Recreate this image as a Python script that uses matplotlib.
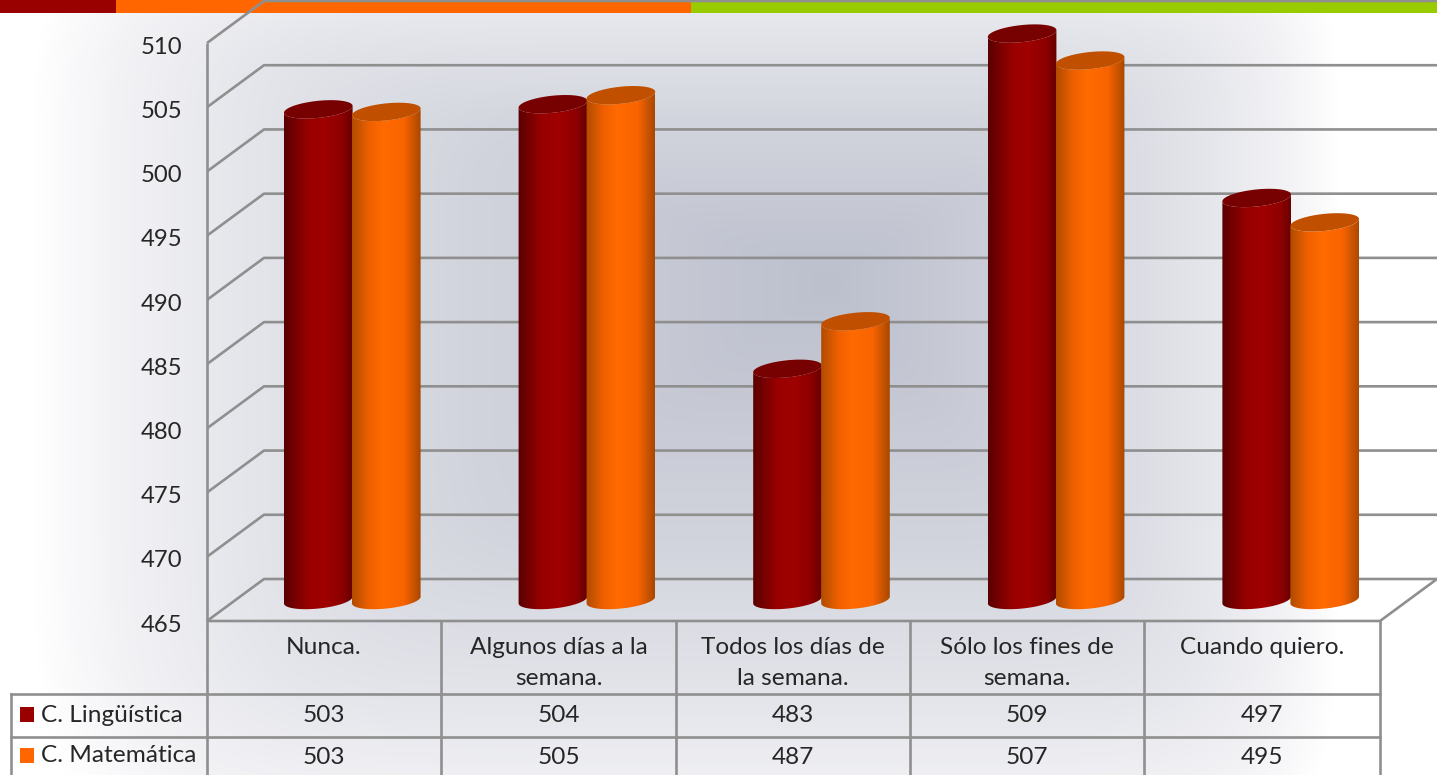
import numpy as np
import matplotlib.pyplot as plt
from matplotlib.patches import Polygon, Rectangle
from matplotlib.path import Path
from matplotlib.transforms import IdentityTransform, ScaledTranslation
from matplotlib.colors import LinearSegmentedColormap

plt.rcParams['font.family'] = ['Lato', 'DejaVu Sans']

W = 1437
H = 775

# datos
categorias = ['Nunca.', 'Algunos días a la\nsemana.', 'Todos los días de\nla semana.',
              'Sólo los fines de\nsemana.', 'Cuando quiero.']
series = ['C. Lingüística', 'C. Matemática']
tabla_ling = [503, 504, 483, 509, 497]
tabla_mat = [503, 505, 487, 507, 495]
# altura (no coincide del todo con la tabla redondeada)
altura_ling = [503.2, 503.6, 483.0, 509.1, 496.3]
altura_mat = [503.0, 504.3, 486.7, 507.0, 494.4]
ticks_y = [465, 470, 475, 480, 485, 490, 495, 500, 505, 510]

COL_GRID = '#8f8f8f'
COL_TEXT = '#262626'
COL_ROJO = '#990000'
COL_NARANJA = '#ff6600'
FS = 17.6
LW = 1.9

DX3D = 57   # profundidad en pixeles
DY3D = 42
RADIO = 34.5
B_ELIPSE = 8.5
TILT = np.radians(6)

fig = plt.figure(figsize=(W / 100, H / 100), dpi=100)

# fondo en coordenadas de pixel
bg = fig.add_axes([0, 0, 1, 1], zorder=0)
bg.set_xlim(0, W)
bg.set_ylim(H, 0)
bg.axis('off')

xx, yy = np.meshgrid(np.arange(W), np.arange(H))
cx, cy = 830, 280
dx = np.where(xx < cx, (cx - xx) / 800.0, (xx - cx) / 510.0)
dy = np.where(yy < cy, (cy - yy) / 345.0, (yy - cy) / 580.0)
t = np.clip((dx ** 8 + dy ** 8) ** (1 / 8), 0, 1)
cmap_bg = LinearSegmentedColormap.from_list('bg', [(0, '#bcc0cd'), (0.45, '#d2d4dd'), (0.75, '#e6e7ec'),
                                                   (0.9, '#f3f3f6'), (1, '#ffffff')])
bg.imshow(t, cmap=cmap_bg, vmin=0, vmax=1, extent=(0, W, H, 0), aspect='auto', interpolation='bilinear')

# franja superior
bg.add_patch(Rectangle((0, 0), 116, 13, fc=COL_ROJO, ec='none'))
bg.add_patch(Rectangle((116, 0), 575, 13, fc=COL_NARANJA, ec='none'))
bg.add_patch(Rectangle((691, 0), 746, 13, fc='#99cc00', ec='none'))

# ejes del grafico: el plano frontal
ax = fig.add_axes([207 / W, (H - 621) / H, 1173 / W, 578 / H], zorder=1)
ax.patch.set_visible(False)
for s in ax.spines.values():
    s.set_visible(False)
ax.set_xticks([])
ax.set_yticks(ticks_y)
ax.tick_params(axis='y', length=0, pad=18, labelsize=17.2, labelcolor=COL_TEXT)
baja = ScaledTranslation(0, -3 / 72, fig.dpi_scale_trans)
for lab in ax.get_yticklabels():
    lab.set_verticalalignment('center')
    lab.set_transform(lab.get_transform() + baja)
ax.set_xlim(0, 5)
ax.set_ylim(465, 510)


def pix(x, v):
    return ax.transData.transform((x, v))


def linea(xs, ys):
    ax.add_line(plt.Line2D(xs, ys, transform=IdentityTransform(), color=COL_GRID, lw=LW,
                           clip_on=False, zorder=2, solid_capstyle='butt'))


# rejilla: pared del fondo y pared izquierda
for v in ticks_y:
    p = pix(0, v)
    linea([p[0], p[0] + DX3D, W], [p[1], p[1] + DY3D, p[1] + DY3D])
p0 = pix(0, 465)
p1 = pix(0, 510)
linea([p0[0], p1[0]], [p0[1], p1[1]])
# suelo
p5 = pix(5, 465)
linea([p0[0], p5[0], p5[0] + DX3D], [p0[1], p5[1], p5[1] + DY3D])


def elipse(c, a):
    ex = RADIO * np.cos(a)
    ey = B_ELIPSE * np.sin(a)
    return np.column_stack([c[0] + ex * np.cos(TILT) - ey * np.sin(TILT),
                            c[1] + ex * np.sin(TILT) + ey * np.cos(TILT)])


def cilindro(xc, valor, cmap_cuerpo, col_tapa, z):
    base = pix(xc, 465) + np.array([0, 21])
    tope = pix(xc, valor) + np.array([0, 21])
    # cuerpo: arco inferior de la base y arco inferior de la tapa
    arco = np.linspace(np.pi, 2 * np.pi, 60)
    cuerpo = np.vstack([elipse(base, arco), elipse(tope, arco[::-1])])
    # gradiente horizontal recortado con el cuerpo
    grad = np.linspace(0, 1, 128).reshape(1, -1)
    w = RADIO / (pix(1, 465)[0] - pix(0, 465)[0])
    im = ax.imshow(grad, cmap=cmap_cuerpo, extent=(xc - w, xc + w, 463, valor + 5), aspect='auto',
                   zorder=z, interpolation='bilinear')
    im.set_clip_box(fig.bbox)
    im.set_clip_path(Path(cuerpo), transform=IdentityTransform())
    tapa = elipse(tope, np.linspace(0, 2 * np.pi, 121))
    ax.add_patch(Polygon(tapa, closed=True, fc=col_tapa, ec='none', transform=IdentityTransform(),
                         clip_on=False, zorder=z + 0.1))


cmap_r = LinearSegmentedColormap.from_list('r', [(0, '#5a0000'), (0.35, '#990000'), (0.6, '#a00000'),
                                                 (0.85, '#8c0000'), (1, '#660000')])
cmap_n = LinearSegmentedColormap.from_list('n', [(0, '#b04c00'), (0.25, '#f06000'), (0.45, '#ff6a00'),
                                                 (0.75, '#fa6400'), (1, '#a84800')])

u = 1173 / 5.0
for i in range(5):
    xc = i + 0.5 + 28 / u
    cilindro(xc - 34 / u, altura_ling[i], cmap_r, '#770000', 3 + i)
    cilindro(xc + 34 / u, altura_mat[i], cmap_n, '#c05000', 3.5 + i)

ax.set_xlim(0, 5)
ax.set_ylim(465, 510)

# tabla de datos
col_x = [207, 441, 676, 910, 1144, 1380]
for x in col_x:
    bg.plot([x, x], [621, 775], color=COL_GRID, lw=LW, zorder=3)
bg.plot([11, 11], [694, 775], color=COL_GRID, lw=LW, zorder=3)
bg.plot([11, 1380], [694, 694], color=COL_GRID, lw=LW, zorder=3)
bg.plot([11, 1380], [737, 737], color=COL_GRID, lw=LW, zorder=3)
bg.set_xlim(0, W)
bg.set_ylim(H, 0)

for i, nombre in enumerate(categorias):
    xm = (col_x[i] + col_x[i + 1]) / 2
    bg.text(xm, 637, nombre, ha='center', va='top', fontsize=FS, color=COL_TEXT, linespacing=1.6)
    bg.text(xm, 716, str(tabla_ling[i]), ha='center', va='center', fontsize=FS, color=COL_TEXT)
    bg.text(xm, 757, str(tabla_mat[i]), ha='center', va='center', fontsize=FS, color=COL_TEXT)

bg.add_patch(Rectangle((20, 707), 14, 15, fc=COL_ROJO, ec='none'))
bg.add_patch(Rectangle((20, 748), 14, 15, fc=COL_NARANJA, ec='none'))
bg.text(41, 715, series[0], ha='left', va='center', fontsize=FS, color=COL_TEXT)
bg.text(41, 756, series[1], ha='left', va='center', fontsize=FS, color=COL_TEXT)

fig.savefig('out.png', dpi=100)
